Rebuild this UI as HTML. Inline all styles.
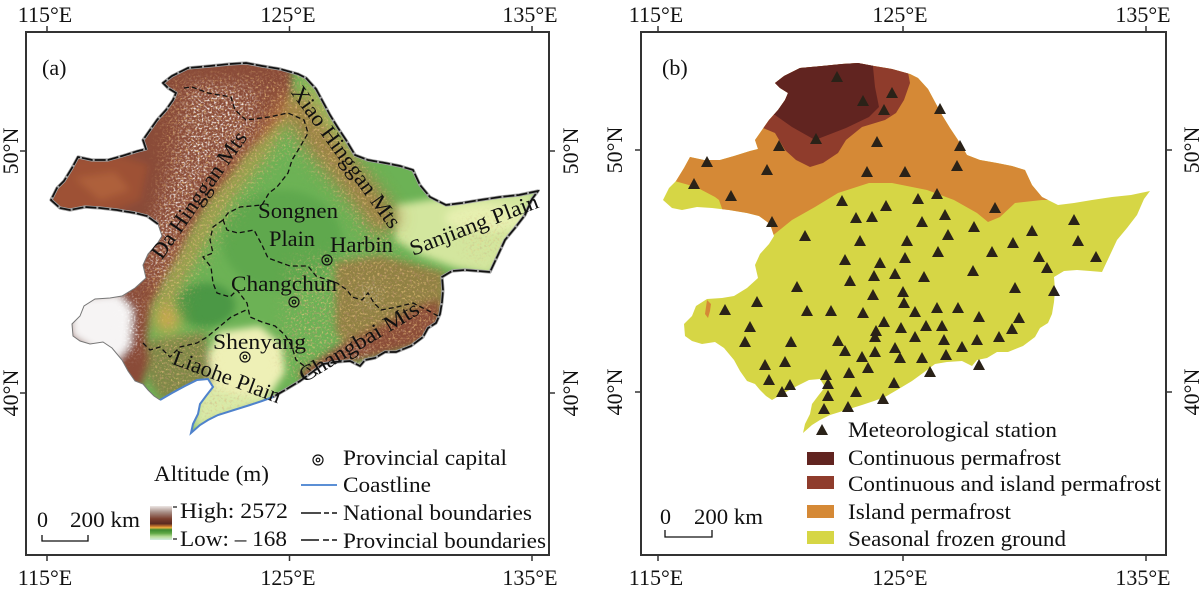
<!DOCTYPE html>
<html><head><meta charset="utf-8">
<style>
html,body{margin:0;padding:0;background:#fff;}
svg{display:block;}
text{font-family:"Liberation Serif","Times New Roman",serif;font-size:22px;fill:#111;}
</style></head><body>
<svg width="1200" height="591" viewBox="0 0 1200 591" xmlns="http://www.w3.org/2000/svg">
<defs>
<path id="ol" d="M163,83 L172,76 L188,68 L210,66 L230,64 L246,63 L262,66 L280,69 L298,74 L306,78 L316,89 L323,102 L330,115 L338,128 L346,140 L355,155 L368,160 L385,163 L400,166 L413,170 L420,185 L430,197 L446,205 L462,203 L480,200 L500,197 L519,195 L538,191 L532,199 L525,215 L515,228 L505,240 L498,255 L490,272 L478,271 L465,270 L452,271 L442,277 L443,290 L442,302 L440,314 L436,323 L428,328 L423,337 L411,346 L396,352 L385,352 L375,358 L365,360 L360,366 L350,361 L335,362 L323,364 L311,373 L300,381 L285,390 L273,397 L262,401 L250,405 L234,410 L218,415 L208,420 L200,425 L191,433 L193,424 L198,414 L200,404 L206,396 L213,387 L208,379 L197,380 L185,386 L172,393 L160,400 L154,396 L148,390 L143,384 L135,381 L128,371 L122,360 L112,348 L103,342 L90,344 L80,341 L73,336 L72,324 L80,316 L84,306 L95,299 L110,298 L122,296 L135,288 L146,278 L143,265 L148,254 L157,244 L162,236 L158,224 L147,216 L135,213 L117,210 L100,208 L85,207 L70,210 L60,208 L51,200 L57,188 L64,181 L72,168 L78,157 L92,160 L108,160 L122,156 L138,151 L146,149 L143,140 L150,130 L157,120 L166,110 L173,100 L176,93 L168,88 Z"/>
<path id="nat" d="M158,224 L147,216 L135,213 L117,210 L100,208 L85,207 L70,210 L60,208 L51,200 L57,188 L64,181 L72,168 L78,157 L92,160 L108,160 L122,156 L138,151 L146,149 L143,140 L150,130 L157,120 L166,110 L173,100 L176,93 L168,88 L163,83 L172,76 L188,68 L210,66 L230,64 L246,63 L262,66 L280,69 L298,74 L306,78 L316,89 L323,102 L330,115 L338,128 L346,140 L355,155 L368,160 L385,163 L400,166 L413,170 L420,185 L430,197 L446,205 L462,203 L480,200 L500,197 L519,195 L538,191 L532,199 L525,215 L515,228 L505,240 L498,255 L490,272 L478,271 L465,270 L452,271 L442,277 L443,290 L442,302 L440,314 L436,323 L428,328 L423,337 L411,346 L396,352 L385,352 L375,358 L365,360 L360,366 L350,361 L335,362 L323,364 L311,373 L300,381 L285,390 L273,397"/>
<clipPath id="clipL"><use href="#ol"/></clipPath>
<filter id="bl" filterUnits="userSpaceOnUse" x="0" y="0" width="620" height="591"><feGaussianBlur stdDeviation="4"/></filter>
<filter id="bl2" filterUnits="userSpaceOnUse" x="0" y="0" width="620" height="591"><feGaussianBlur stdDeviation="8"/></filter>
<filter id="nzO" filterUnits="userSpaceOnUse" x="0" y="0" width="620" height="591">
<feTurbulence type="fractalNoise" baseFrequency="0.45" numOctaves="2" seed="5"/>
<feColorMatrix type="matrix" values="0 0 0 0 0.9  0 0 0 0 0.6  0 0 0 0 0.22  3.4 0 0 0 -1.85"/>
</filter>
<filter id="nzW" filterUnits="userSpaceOnUse" x="0" y="0" width="620" height="591">
<feTurbulence type="fractalNoise" baseFrequency="0.5" numOctaves="2" seed="11"/>
<feColorMatrix type="matrix" values="0 0 0 0 0.95  0 0 0 0 0.94  0 0 0 0 0.94  3.6 0 0 0 -1.8"/>
</filter>
<filter id="nzB" filterUnits="userSpaceOnUse" x="0" y="0" width="620" height="591">
<feTurbulence type="fractalNoise" baseFrequency="0.4" numOctaves="2" seed="21"/>
<feColorMatrix type="matrix" values="0 0 0 0 0.52  0 0 0 0 0.28  0 0 0 0 0.18  3.4 0 0 0 -1.75"/>
</filter>
<mask id="mMtn" maskUnits="userSpaceOnUse" x="0" y="0" width="620" height="591">
<g filter="url(#bl2)" fill="#fff">
<path d="M165,80 L300,70 L340,130 L390,200 L400,250 L370,250 L330,190 L290,150 L255,190 L220,240 L190,290 L170,330 L140,300 L150,240 L160,180 Z"/>
<path d="M290,260 L360,250 L440,270 L440,335 L400,352 L340,365 L300,385 L280,360 Z"/>
<path d="M150,340 L210,330 L210,385 L170,398 L150,380 Z"/>
<path d="M200,385 L275,398 L230,412 L195,430 Z" opacity="0.6"/>
<path d="M460,220 L510,215 L500,255 L470,260 Z" opacity="0.6"/>
</g>
</mask>
<mask id="mWht" maskUnits="userSpaceOnUse" x="0" y="0" width="620" height="591">
<g filter="url(#bl2)" fill="#fff">
<path d="M190,85 L255,88 L255,135 L230,155 L205,180 L185,215 L175,250 L160,285 L148,280 L150,235 L165,195 L180,150 L185,110 Z"/>
<path d="M115,295 L140,300 L140,345 L125,360 Z"/>
<circle cx="370" cy="295" r="8"/><circle cx="357" cy="354" r="10"/>
</g>
</mask>
<linearGradient id="cb" x1="0" y1="0" x2="0" y2="1">
<stop offset="0" stop-color="#ece6e4"/>
<stop offset="0.18" stop-color="#a88e86"/>
<stop offset="0.38" stop-color="#7a3e2e"/>
<stop offset="0.52" stop-color="#5a2a20"/>
<stop offset="0.6" stop-color="#c8782e"/>
<stop offset="0.64" stop-color="#e8b040"/>
<stop offset="0.7" stop-color="#3c8a30"/>
<stop offset="0.8" stop-color="#5ea845"/>
<stop offset="0.9" stop-color="#b6dc98"/>
<stop offset="1" stop-color="#d2ece0"/>
</linearGradient>
<polygon id="tri" points="-6,5 6,5 0,-6" fill="#2a2218"/>
</defs>

<rect width="1200" height="591" fill="#fff"/>

<!-- ============ LEFT PANEL MAP (DEM) ============ -->
<g clip-path="url(#clipL)">
  <rect x="30" y="40" width="520" height="420" fill="#6cb255"/>
  <g filter="url(#bl)">
    <path d="M40,55 L292,55 L292,90 L285,115 L262,140 L247,155 L228,180 L207,205 L192,230 L180,255 L165,280 L152,305 L147,338 L150,360 L140,392 L60,340 L40,200 Z" fill="#8a4b37"/>
    <path d="M48,198 L75,158 L120,156 L148,165 L140,200 L110,212 L60,212 Z" fill="#9e5136"/>
    <path d="M75,178 L115,172 L130,190 L100,200 Z" fill="#b5663d" opacity="0.7"/>
    <path d="M70,298 L118,294 L132,310 L130,345 L118,360 L95,350 L72,336 Z" fill="#f6f4f4"/>
    <ellipse cx="282" cy="240" rx="60" ry="50" fill="#5fa84e"/>
    <ellipse cx="205" cy="305" rx="30" ry="22" fill="#4c9844"/>
    <path d="M395,205 L440,198 L538,190 L525,225 L505,255 L490,275 L455,268 L420,255 L395,240 Z" fill="#d3e69e"/>
    <ellipse cx="485" cy="218" rx="40" ry="14" fill="#e6f0b0"/>
    <path d="M335,262 L380,255 L445,272 L445,335 L420,345 L390,352 L350,355 L335,330 Z" fill="#96783f" opacity="0.85"/>
    <path d="M300,372 L340,345 L380,325 L420,305 L440,300 L440,335 L410,348 L380,356 L345,364 L305,386 Z" fill="#8b4e37"/>
    <path d="M218,332 L260,326 L282,345 L285,372 L270,395 L240,405 L212,395 L205,365 Z" fill="#eef0b6"/>
    <path d="M200,385 L240,395 L280,398 L240,412 L215,420 L192,432 Z" fill="#d9eaa8"/>
    <path d="M150,340 L205,332 L212,380 L200,395 L162,400 L148,380 Z" fill="#7f8846"/>
  </g>
  <g filter="url(#bl2)">
    <path d="M292,95 L276,125 L260,150 L238,178 L217,205 L201,232 L188,256 L173,282 L162,308 L160,330" stroke="#c98c42" stroke-width="11" fill="none" opacity="0.9"/>
    <path d="M306,80 L322,106 L336,134 L352,158" stroke="#a9be5e" stroke-width="12" fill="none"/>
    <path d="M292,100 L315,135 L340,165 L365,195 L390,228" stroke="#a8763e" stroke-width="30" fill="none" opacity="0.8"/>
    <ellipse cx="168" cy="320" rx="12" ry="13" fill="#d8a84c"/>
  </g>
  <rect x="30" y="40" width="520" height="420" filter="url(#nzO)" mask="url(#mMtn)" opacity="0.8"/>
  <rect x="30" y="40" width="520" height="420" filter="url(#nzB)" mask="url(#mMtn)" opacity="0.55"/>
  <rect x="30" y="40" width="520" height="420" filter="url(#nzW)" mask="url(#mWht)"/>
</g>

<!-- west outline thin gray -->
<path d="M160,400 L154,396 L148,390 L143,384 L135,381 L128,371 L122,360 L112,348 L103,342 L90,344 L80,341 L73,336 L72,324 L80,316 L84,306 L95,299 L110,298 L122,296 L135,288 L146,278 L143,265 L148,254 L157,244 L162,236 L158,224" fill="none" stroke="#777" stroke-width="1"/>
<!-- national boundary -->
<use href="#nat" fill="none" stroke="#a0a0a0" stroke-width="3.2" stroke-linejoin="round"/>
<use href="#nat" fill="none" stroke="#111" stroke-width="1.7" stroke-dasharray="11,2"/>
<!-- coastline -->
<path d="M273,397 L262,401 L250,405 L234,410 L218,415 L208,420 L200,425 L191,433 L193,424 L198,414 L200,404 L206,396 L213,387 L208,379 L197,380 L185,386 L172,393 L160,400" fill="none" stroke="#4f82cc" stroke-width="2"/>
<!-- provincial boundaries -->
<g fill="none" stroke="#111" stroke-width="1.3" stroke-dasharray="5,3">
<path d="M184,88 L192,87 L208,93 L231,97 L235,110 L246,120 L269,117 L288,113 L304,120 L308,133 L300,147 L292,160 L288,173 L277,187 L269,193 L262,205 L240,207 L228,213 L223,220"/>
<path d="M223,220 L227,230 L238,233 L254,230 L262,245 L268,258 L290,266 L308,266 L316,276 L337,283 L347,290 L352,297 L362,300 L368,293 L374,303 L381,310 L397,307 L413,303 L427,310 L440,317"/>
<path d="M223,220 L213,227 L210,240 L213,253 L203,257 L211,267 L213,283 L217,293 L230,297 L237,290 L247,303 L250,317 L262,322 L275,326 L285,335 L292,347 L296,360 L310,370 L320,375"/>
<path d="M143,343 L150,350 L160,347 L170,357 L180,347 L197,343 L207,337 L219,327 L231,317 L246,310"/>
</g>

<!-- left map labels -->
<text transform="translate(199,195) rotate(-55)" x="-75" y="7" textLength="150" lengthAdjust="spacingAndGlyphs">Da Hinggan Mts</text>
<text transform="translate(346,157) rotate(54)" x="-85" y="7" textLength="170" lengthAdjust="spacingAndGlyphs">Xiao Hinggan Mts</text>
<text transform="translate(474,225) rotate(-21)" x="-68" y="7" textLength="136" lengthAdjust="spacingAndGlyphs">Sanjiang Plain</text>
<text transform="translate(227,377) rotate(20.5)" x="-57" y="7" textLength="114" lengthAdjust="spacingAndGlyphs">Liaohe Plain</text>
<text transform="translate(359,342) rotate(-31)" x="-68" y="7" textLength="136" lengthAdjust="spacingAndGlyphs">Changbai Mts</text>
<text x="258" y="218" textLength="80" lengthAdjust="spacingAndGlyphs">Songnen</text>
<text x="269" y="246" textLength="46" lengthAdjust="spacingAndGlyphs">Plain</text>
<text x="330" y="252" textLength="63" lengthAdjust="spacingAndGlyphs">Harbin</text>
<text x="231" y="291" textLength="106" lengthAdjust="spacingAndGlyphs">Changchun</text>
<text x="213" y="349" textLength="93" lengthAdjust="spacingAndGlyphs">Shenyang</text>
<g fill="none" stroke="#111" stroke-width="1.2">
<circle cx="327" cy="260" r="5"/><circle cx="327" cy="260" r="1.8"/>
<circle cx="294" cy="302" r="5"/><circle cx="294" cy="302" r="1.8"/>
<circle cx="245" cy="357" r="5"/><circle cx="245" cy="357" r="1.8"/>
</g>
<text x="42" y="75">(a)</text>

<!-- left legend -->
<text x="154" y="481" textLength="115" lengthAdjust="spacingAndGlyphs">Altitude (m)</text>
<rect x="150" y="506" width="22" height="34" fill="url(#cb)"/>
<g stroke="#111" stroke-width="1.2"><line x1="173" y1="507" x2="177" y2="507"/><line x1="173" y1="539" x2="177" y2="539"/></g>
<text x="180" y="518" textLength="108" lengthAdjust="spacingAndGlyphs">High: 2572</text>
<text x="180" y="546" textLength="107" lengthAdjust="spacingAndGlyphs">Low: – 168</text>
<g fill="none" stroke="#111" stroke-width="1.2"><circle cx="318" cy="460" r="5"/><circle cx="318" cy="460" r="1.8"/></g>
<line x1="301" y1="485" x2="337" y2="485" stroke="#5b8fd5" stroke-width="2"/>
<g stroke="#111" stroke-width="1.5"><line x1="301" y1="513" x2="321" y2="513"/><line x1="324" y1="513" x2="329" y2="513"/><line x1="332" y1="513" x2="337" y2="513"/>
<line x1="301" y1="540" x2="319" y2="540"/><line x1="323" y1="540" x2="329" y2="540"/><line x1="332" y1="540" x2="337" y2="540"/></g>
<text x="343" y="465" textLength="164" lengthAdjust="spacingAndGlyphs">Provincial capital</text>
<text x="343" y="492" textLength="88" lengthAdjust="spacingAndGlyphs">Coastline</text>
<text x="343" y="520" textLength="189" lengthAdjust="spacingAndGlyphs">National boundaries</text>
<text x="343" y="548" textLength="203" lengthAdjust="spacingAndGlyphs">Provincial boundaries</text>
<text x="37" y="527">0</text>
<text x="70" y="527" textLength="70" lengthAdjust="spacingAndGlyphs">200 km</text>
<path d="M42,535 L42,541 L88,541 L88,535" fill="none" stroke="#111" stroke-width="1.3"/>

<!-- left frame & axes -->
<rect x="26" y="32" width="523" height="523" fill="none" stroke="#333" stroke-width="2"/>
<g stroke="#333" stroke-width="1.5">
<line x1="47" y1="26" x2="47" y2="32"/><line x1="289.5" y1="26" x2="289.5" y2="32"/><line x1="532" y1="26" x2="532" y2="32"/>
<line x1="47" y1="555" x2="47" y2="561"/><line x1="289.5" y1="555" x2="289.5" y2="561"/><line x1="532" y1="555" x2="532" y2="561"/>
<line x1="20" y1="151" x2="26" y2="151"/><line x1="20" y1="393" x2="26" y2="393"/>
<line x1="549" y1="151" x2="555" y2="151"/><line x1="549" y1="393" x2="555" y2="393"/>
</g>
<g text-anchor="middle">
<text x="45" y="22">115°E</text><text x="288" y="22">125°E</text><text x="530" y="22">135°E</text>
<text x="45" y="585">115°E</text><text x="288" y="585">125°E</text><text x="530" y="585">135°E</text>
<text transform="translate(18,151) rotate(-90)">50°N</text>
<text transform="translate(18,393) rotate(-90)">40°N</text>
<text transform="translate(578,151) rotate(-90)">50°N</text>
<text transform="translate(578,393) rotate(-90)">40°N</text>
</g>

<!-- ============ RIGHT PANEL MAP ============ -->
<g transform="translate(612,0)">
<g clip-path="url(#clipL)">
  <rect x="30" y="40" width="520" height="420" fill="#d6d645"/>
  <path d="M30,40 L440,40 L440,200 L430,200 L403,203 L388,217 L376,222 L365,213 L342,200 L315,190 L280,183 L257,183 L226,193 L203,207 L180,220 L159,237 L120,237 L107,200 L103,197 L84,187 L59,180 L30,178 Z" fill="#d58936"/>
  <path d="M140,40 L296,40 L296,72 L298,83 L292,100 L284,113 L273,120 L250,127 L234,140 L226,153 L211,163 L198,167 L184,160 L173,150 L163,133 L151,128 L140,128 Z" fill="#8f3c2c"/>
  <path d="M150,40 L261,40 L261,67 L263,87 L267,107 L257,117 L234,128 L203,140 L180,127 L163,115 L150,112 Z" fill="#612420"/>
  <path d="M95,300 L99,304 L98,311 L96,318 L93,314 L94,307 Z" fill="#d58936"/>
</g>
</g>

<!-- triangles -->
<g>
<use href="#tri" x="837" y="77"/><use href="#tri" x="863" y="101"/><use href="#tri" x="892" y="93"/><use href="#tri" x="884" y="110"/><use href="#tri" x="940" y="109"/>
<use href="#tri" x="816" y="139"/><use href="#tri" x="877" y="142"/><use href="#tri" x="779" y="146"/><use href="#tri" x="960" y="146"/><use href="#tri" x="707" y="162"/>
<use href="#tri" x="767" y="170"/><use href="#tri" x="867" y="172"/><use href="#tri" x="905" y="172"/><use href="#tri" x="957" y="166"/><use href="#tri" x="694" y="184"/>
<use href="#tri" x="731" y="196"/><use href="#tri" x="842" y="201"/><use href="#tri" x="918" y="199"/><use href="#tri" x="937" y="194"/><use href="#tri" x="886" y="206"/>
<use href="#tri" x="995" y="208"/><use href="#tri" x="772" y="222"/><use href="#tri" x="856" y="218"/><use href="#tri" x="872" y="217"/><use href="#tri" x="922" y="222"/>
<use href="#tri" x="945" y="215"/><use href="#tri" x="974" y="227"/><use href="#tri" x="1074" y="220"/><use href="#tri" x="1032" y="231"/><use href="#tri" x="805" y="236"/>
<use href="#tri" x="860" y="241"/><use href="#tri" x="907" y="241"/><use href="#tri" x="948" y="235"/><use href="#tri" x="1013" y="243"/><use href="#tri" x="1078" y="241"/>
<use href="#tri" x="992" y="252"/><use href="#tri" x="938" y="252"/><use href="#tri" x="845" y="260"/><use href="#tri" x="905" y="258"/><use href="#tri" x="880" y="263"/>
<use href="#tri" x="1039" y="257"/><use href="#tri" x="1096" y="257"/><use href="#tri" x="973" y="271"/><use href="#tri" x="1047" y="268"/><use href="#tri" x="874" y="276"/>
<use href="#tri" x="895" y="274"/><use href="#tri" x="924" y="277"/><use href="#tri" x="850" y="281"/><use href="#tri" x="797" y="287"/><use href="#tri" x="1015" y="288"/>
<use href="#tri" x="1054" y="291"/><use href="#tri" x="873" y="295"/><use href="#tri" x="903" y="292"/><use href="#tri" x="757" y="302"/><use href="#tri" x="725" y="310"/>
<use href="#tri" x="807" y="311"/><use href="#tri" x="831" y="311"/><use href="#tri" x="863" y="313"/><use href="#tri" x="904" y="303"/><use href="#tri" x="915" y="312"/>
<use href="#tri" x="937" y="308"/><use href="#tri" x="958" y="308"/><use href="#tri" x="979" y="317"/><use href="#tri" x="1019" y="318"/><use href="#tri" x="884" y="322"/>
<use href="#tri" x="750" y="327"/><use href="#tri" x="876" y="331"/><use href="#tri" x="901" y="328"/><use href="#tri" x="926" y="326"/><use href="#tri" x="942" y="326"/>
<use href="#tri" x="1012" y="329"/><use href="#tri" x="875" y="337"/><use href="#tri" x="915" y="337"/><use href="#tri" x="745" y="342"/><use href="#tri" x="791" y="342"/>
<use href="#tri" x="838" y="341"/><use href="#tri" x="944" y="340"/><use href="#tri" x="977" y="340"/><use href="#tri" x="999" y="337"/><use href="#tri" x="845" y="351"/>
<use href="#tri" x="875" y="352"/><use href="#tri" x="895" y="348"/><use href="#tri" x="962" y="347"/><use href="#tri" x="862" y="357"/><use href="#tri" x="900" y="358"/>
<use href="#tri" x="922" y="358"/><use href="#tri" x="946" y="355"/><use href="#tri" x="765" y="365"/><use href="#tri" x="785" y="362"/><use href="#tri" x="868" y="368"/>
<use href="#tri" x="826" y="375"/><use href="#tri" x="849" y="373"/><use href="#tri" x="979" y="365"/><use href="#tri" x="930" y="372"/><use href="#tri" x="769" y="380"/>
<use href="#tri" x="790" y="385"/><use href="#tri" x="828" y="384"/><use href="#tri" x="894" y="383"/><use href="#tri" x="782" y="392"/><use href="#tri" x="828" y="396"/>
<use href="#tri" x="856" y="392"/><use href="#tri" x="883" y="399"/><use href="#tri" x="824" y="409"/><use href="#tri" x="848" y="407"/>
<use href="#tri" x="822" y="430"/>
</g>
<text x="662" y="75">(b)</text>

<!-- right legend -->
<rect x="807" y="452" width="27" height="13" fill="#612420"/>
<rect x="807" y="476" width="27" height="13" fill="#8f3c2c"/>
<rect x="807" y="505" width="27" height="13" fill="#d58936"/>
<rect x="807" y="531" width="27" height="13" fill="#d6d645"/>
<text x="848" y="437" textLength="209" lengthAdjust="spacingAndGlyphs">Meteorological station</text>
<text x="848" y="465" textLength="213" lengthAdjust="spacingAndGlyphs">Continuous permafrost</text>
<text x="848" y="491" textLength="313" lengthAdjust="spacingAndGlyphs">Continuous and island permafrost</text>
<text x="848" y="519" textLength="163" lengthAdjust="spacingAndGlyphs">Island permafrost</text>
<text x="848" y="546" textLength="218" lengthAdjust="spacingAndGlyphs">Seasonal frozen ground</text>
<text x="660" y="524">0</text>
<text x="694" y="524" textLength="69" lengthAdjust="spacingAndGlyphs">200 km</text>
<path d="M665,530 L665,537 L712,537 L712,530" fill="none" stroke="#111" stroke-width="1.3"/>

<!-- right frame & axes -->
<rect x="641" y="32" width="525" height="523" fill="none" stroke="#333" stroke-width="2"/>
<g stroke="#333" stroke-width="1.5">
<line x1="658" y1="26" x2="658" y2="32"/><line x1="903" y1="26" x2="903" y2="32"/><line x1="1146" y1="26" x2="1146" y2="32"/>
<line x1="658" y1="555" x2="658" y2="561"/><line x1="903" y1="555" x2="903" y2="561"/><line x1="1146" y1="555" x2="1146" y2="561"/>
<line x1="635" y1="150" x2="641" y2="150"/><line x1="635" y1="392" x2="641" y2="392"/>
<line x1="1166" y1="150" x2="1172" y2="150"/><line x1="1166" y1="392" x2="1172" y2="392"/>
</g>
<g text-anchor="middle">
<text x="656" y="22">115°E</text><text x="900" y="22">125°E</text><text x="1143" y="22">135°E</text>
<text x="656" y="585">115°E</text><text x="900" y="585">125°E</text><text x="1143" y="585">135°E</text>
<text transform="translate(622,150) rotate(-90)">50°N</text>
<text transform="translate(622,392) rotate(-90)">40°N</text>
<text transform="translate(1199,150) rotate(-90)">50°N</text>
<text transform="translate(1199,392) rotate(-90)">40°N</text>
</g>
</svg>
</body></html>
